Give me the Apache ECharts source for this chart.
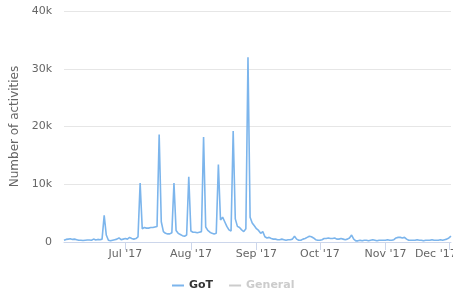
<!DOCTYPE html>
<html>
<head>
<meta charset="utf-8">
<script src="https://cdn.jsdelivr.net/npm/echarts@6/dist/echarts.min.js"></script>
<style>
    html, body { margin: 0; padding: 0; background: #fff; }
    #chart { width: 453px; height: 297px; }
</style>
</head>
<body>
<div id="chart"></div>
<script>
// daily activity counts (Jun 2 2017 .. Dec 2 2017)
var junStartDay = 2;
var jun = [300, 450, 500, 550, 450, 500, 400, 300, 300, 250, 300, 350, 350, 300, 500, 350, 450, 400, 500,
    4600, 1200, 300, 200, 300, 400, 500, 700, 400, 500];
var jul = [600, 500, 800, 600, 500, 600, 900, 10200, 2300, 2500, 2400, 2400, 2500, 2500, 2600, 2700,
    18600, 3500, 1800, 1500, 1400, 1400, 1600, 10200, 2000, 1500, 1300, 1100, 1000, 1200, 11300];
var aug = [1900, 1700, 1700, 1600, 1700, 1800, 18200, 2600, 2000, 1700, 1500, 1400, 1500, 13400, 3800,
    4300, 3500, 2700, 2100, 1900, 19200, 4000, 2700, 2500, 2100, 1800, 2300, 32000, 4300, 3300, 2800];
var sep = [2300, 2000, 1500, 1800, 900, 700, 800, 600, 500, 500, 400, 400, 500, 400, 300, 400, 400, 500,
    1000, 500, 300, 300, 500, 600, 800, 1000, 900, 700, 400, 300];
var oct = [300, 400, 600, 600, 700, 600, 600, 700, 500, 500, 600, 500, 400, 500, 700, 1200, 500, 200,
    200, 300, 200, 300, 300, 200, 300, 400, 300, 200, 300, 300, 300];
var nov = [300, 400, 300, 300, 400, 700, 800, 800, 700, 800, 500, 300, 300, 300, 300, 400, 300, 300,
    200, 300, 300, 300, 400, 300, 300, 300, 400, 300, 400, 500];
var dec = [700, 1000];

var monthNames = ['Jan', 'Feb', 'Mar', 'Apr', 'May', 'Jun', 'Jul', 'Aug', 'Sep', 'Oct', 'Nov', 'Dec'];
var yTicks = [0, 10000, 20000, 30000, 40000];

// build the day categories
var months = [jun, jul, aug, sep, oct, nov, dec];
var days = [];
var got = [];
for (var m = 0; m < months.length; m++) {
    for (var d = 0; d < months[m].length; d++) {
        var day = (m === 0 ? junStartDay : 1) + d;
        days.push('2017-' + (m + 6 < 10 ? '0' : '') + (m + 6) + '-' + (day < 10 ? '0' : '') + day);
        got.push(months[m][d]);
    }
}

function isMonthStart(idx, val) {
    return val.slice(8) === '01';
}

var myChart = echarts.init(document.getElementById('chart'));
myChart.setOption({
    animation: false,
    color: ['#7cb5ec', '#434348'],
    textStyle: { fontFamily: 'DejaVu Sans' },
    grid: {
        left: 64,
        right: 2,
        top: 11,
        bottom: 55,
        outerBoundsMode: 'none'
    },
    legend: {
        top: 275,
        left: 167,
        icon: 'rect',
        itemWidth: 12,
        itemHeight: 2,
        itemGap: 16,
        inactiveColor: '#cccccc',
        textStyle: {
            color: '#333333',
            fontWeight: 'bold',
            fontSize: 11,
            fontFamily: 'DejaVu Sans'
        },
        data: ['GoT', 'General'],
        selected: { 'GoT': true, 'General': false }
    },
    xAxis: {
        type: 'category',
        boundaryGap: false,
        data: days,
        axisLine: { lineStyle: { color: '#ccd6eb' } },
        axisTick: {
            interval: isMonthStart,
            length: 8,
            lineStyle: { color: '#ccd6eb' }
        },
        axisLabel: {
            interval: isMonthStart,
            color: '#666666',
            fontSize: 11,
            margin: 7,
            alignMaxLabel: 'right',
            formatter: function (val) {
                var txt = monthNames[parseInt(val.slice(5, 7), 10) - 1] + " '" + val.slice(2, 4);
                // last label sits at the right edge, pushed partly past it like the original
                return val.slice(5, 7) === '12' ? '{last|' + txt + '}' : txt;
            },
            rich: {
                last: { width: 34, align: 'left', color: '#666666', fontSize: 11 }
            }
        },
        splitLine: { show: false }
    },
    yAxis: {
        type: 'value',
        min: yTicks[0],
        max: yTicks[yTicks.length - 1],
        interval: 10000,
        name: 'Number of activities',
        nameLocation: 'middle',
        nameGap: 36,
        nameTextStyle: { color: '#666666', fontSize: 12 },
        axisLine: { show: false },
        axisTick: { show: false },
        axisLabel: {
            color: '#666666',
            fontSize: 11,
            margin: 12,
            formatter: function (v) { return v === 0 ? '0' : (v / 1000) + 'k'; }
        },
        splitLine: { lineStyle: { color: '#e6e6e6' } }
    },
    series: [{
        name: 'GoT',
        type: 'line',
        showSymbol: false,
        lineStyle: { width: 1.6 },
        data: got
    }, {
        name: 'General',
        type: 'line',
        showSymbol: false,
        data: []
    }]
});
</script>
</body>
</html>
